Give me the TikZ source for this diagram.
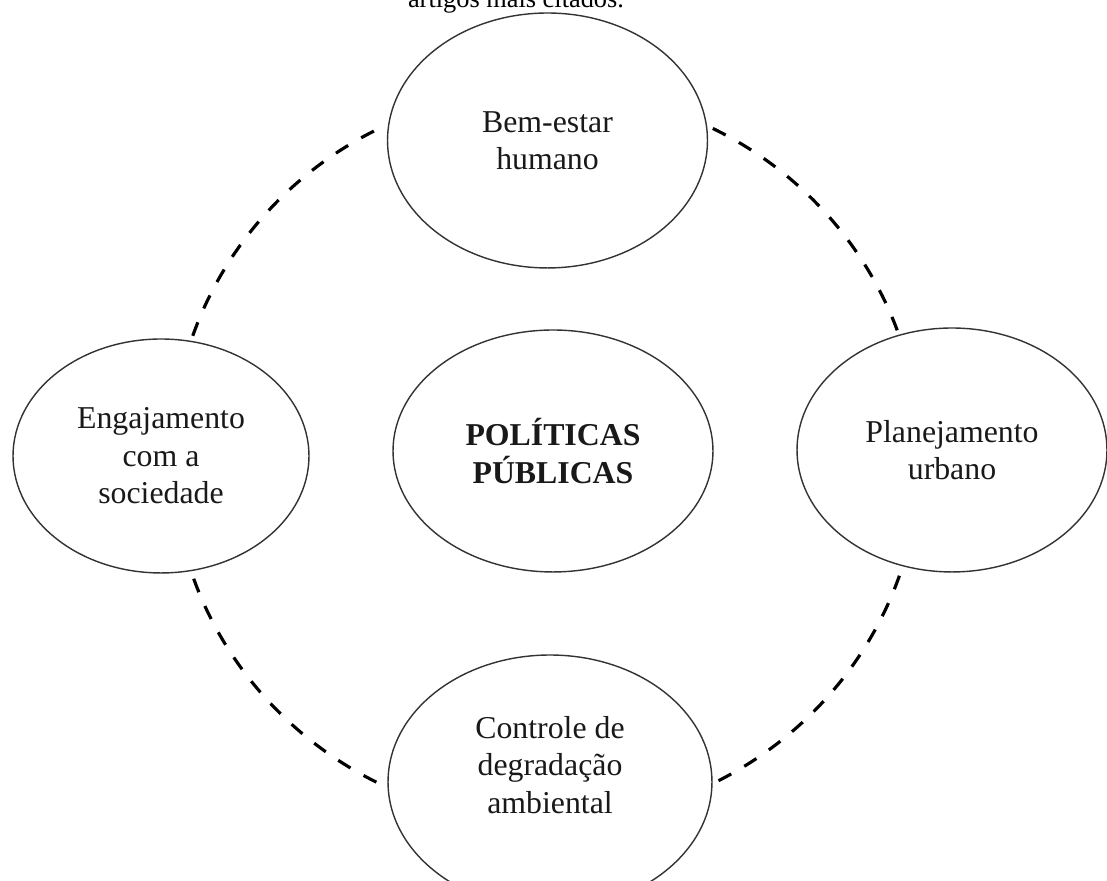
\documentclass[tikz,border=0pt]{standalone}
\usepackage{fontspec}
\setmainfont{Liberation Serif}
\usetikzlibrary{shapes.geometric}

\begin{document}
\begin{tikzpicture}[
    x=0.02cm, y=0.02cm,
    topic/.style={ellipse, draw=black!80, line width=0.8pt, fill=white,
      inner sep=0pt, outer sep=0pt, align=center, text=black!90,
      font=\fontsize{18.1pt}{21.3pt}\selectfont},
    ringdash/.style={line width=1.8pt, black,
      dash pattern=on 8.2pt off 8.6pt},
    caption/.style={font=\fontsize{15pt}{18pt}\selectfont, text=black,
      inner sep=0pt, anchor=base}
  ]
  \path[use as bounding box] (0,0) rectangle (1107,881);
  \clip (0,0) rectangle (1107,881);

  % centre of the dashed ring that links the outer topics
  \coordinate (ring) at (546,425);

  % caption line cut by the top edge
  \node[caption] (cap) at (516,873) {artigos mais citados.};

  % dashed ring, drawn in four arcs between the outer ellipses
  \draw[ringdash] (ring) ++(117.4:374 and 366)
    arc[start angle=117.4, end angle=161.4, x radius=374, y radius=366];
  \draw[ringdash] (ring) ++(63.5:374 and 366)
    arc[start angle=63.5, end angle=19.7, x radius=374, y radius=366];
  \draw[ringdash] (ring) ++(199.6:374 and 366)
    arc[start angle=199.6, end angle=243.4, x radius=374, y radius=366];
  \draw[ringdash] (ring) ++(-19.1:374 and 366)
    arc[start angle=-19.1, end angle=-62.6, x radius=374, y radius=366];

  % topics
  \node[topic, minimum width=6.4cm, minimum height=5.1cm] (bem)
    at (547.5,740.5) {Bem-estar\\humano};
  \node[topic, minimum width=5.92cm, minimum height=4.68cm] (eng)
    at (161,425) {Engajamento\\com a\\sociedade};
  \node[topic, minimum width=6.2cm, minimum height=4.88cm] (plan)
    at (952,431) {Planejamento\\urbano};
  \node[topic, minimum width=6.4cm, minimum height=4.84cm] (pol)
    at (553,430) {\bfseries POLÍTICAS\\\bfseries PÚBLICAS};
  \node[topic, minimum width=6.48cm, minimum height=5.08cm] (ctrl)
    at (550,99) {};
  \node[align=center, text=black!90, inner sep=0pt,
        font=\fontsize{18.1pt}{21.3pt}\selectfont] (ctrltxt)
    at (550,116) {Controle de\\degradação\\ambiental};
\end{tikzpicture}
\end{document}
